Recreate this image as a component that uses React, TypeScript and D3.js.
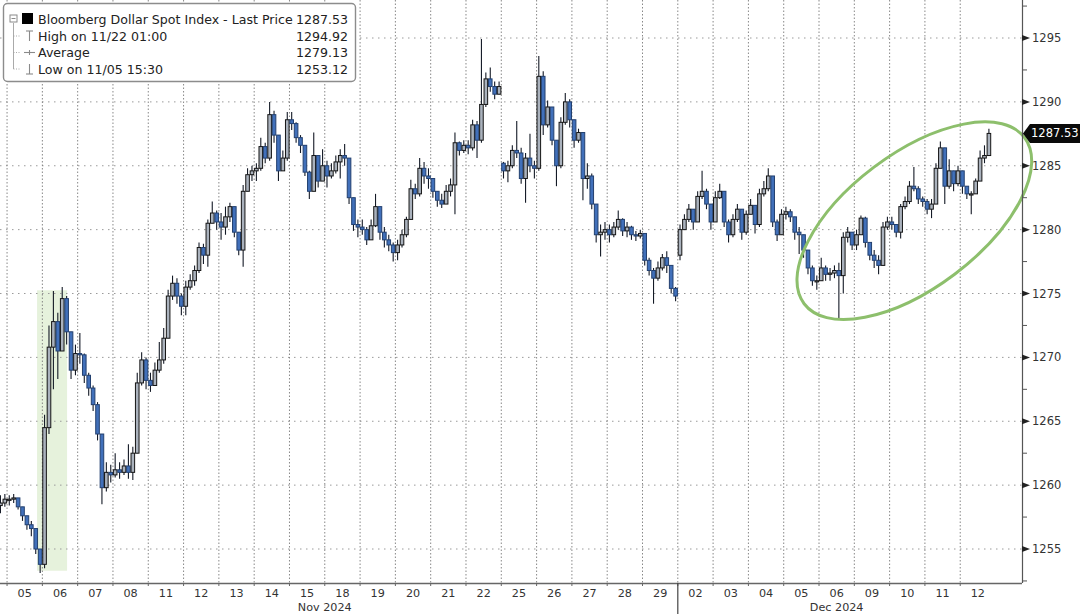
import * as d3 from "d3";

const WIDTH = 1080;
const HEIGHT = 614;

// trading sessions; the first one is only the tail end of Nov 04
const sessions = [
  "11/04", "11/05", "11/06", "11/07", "11/08", "11/11", "11/12", "11/13", "11/14", "11/15",
  "11/18", "11/19", "11/20", "11/21", "11/22", "11/25", "11/26", "11/27", "11/28", "11/29",
  "12/02", "12/03", "12/04", "12/05", "12/06", "12/09", "12/10", "12/11", "12/12",
];

// opening price of each session (3-hour bars after that open at the previous close)
const opens = [
  1258.4, 1258.9, 1253.8, 1270.3, 1260.8, 1268.2, 1274.0, 1280.6, 1284.6, 1288.6,
  1285.0, 1280.2, 1278.2, 1284.0, 1286.6, 1285.2, 1284.8, 1288.6, 1280.0, 1279.7,
  1278.0, 1280.6, 1281.2, 1281.2, 1276.0, 1278.8, 1280.6, 1282.2, 1284.6,
];

const closes = [
  [1258.6, 1258.9],
  [1258.9, 1259.0, 1258.3, 1257.6, 1256.9, 1256.6, 1255.0, 1253.8],
  [1264.5, 1270.8, 1272.8, 1270.5, 1274.6, 1272.0, 1269.0, 1270.3],
  [1270.2, 1268.6, 1267.6, 1266.3, 1264.0, 1259.8, 1261.0, 1260.8],
  [1261.2, 1261.0, 1261.5, 1261.0, 1262.5, 1268.0, 1269.8, 1268.2],
  [1267.8, 1269.0, 1269.8, 1271.5, 1274.8, 1275.8, 1274.8, 1274.0],
  [1275.5, 1276.0, 1276.8, 1278.6, 1278.0, 1280.5, 1281.3, 1280.6],
  [1280.2, 1281.0, 1281.8, 1279.8, 1278.4, 1283.0, 1284.3, 1284.6],
  [1284.8, 1286.5, 1285.6, 1289.0, 1287.4, 1284.6, 1285.6, 1288.6],
  [1288.3, 1287.2, 1286.6, 1284.5, 1283.0, 1285.8, 1283.8, 1285.0],
  [1284.2, 1284.6, 1285.3, 1285.8, 1285.6, 1282.5, 1280.4, 1280.2],
  [1280.0, 1279.2, 1280.3, 1281.8, 1279.8, 1279.2, 1278.8, 1278.2],
  [1278.8, 1279.6, 1280.8, 1283.2, 1282.8, 1284.8, 1284.2, 1284.0],
  [1283.0, 1282.3, 1282.0, 1283.0, 1283.5, 1286.8, 1286.2, 1286.6],
  [1286.4, 1288.2, 1287.0, 1289.8, 1291.8, 1291.2, 1290.6, 1291.2],
  [1284.6, 1285.0, 1286.2, 1286.0, 1284.0, 1285.6, 1285.0, 1284.8],
  [1292.0, 1288.2, 1289.6, 1287.0, 1285.0, 1288.4, 1290.0, 1288.6],
  [1287.0, 1287.6, 1284.0, 1284.2, 1282.0, 1279.6, 1279.8, 1280.0],
  [1279.6, 1280.2, 1280.8, 1279.9, 1280.2, 1279.6, 1279.5, 1279.7],
  [1277.6, 1276.8, 1276.2, 1277.0, 1277.8, 1277.2, 1275.4, 1274.8],
  [1280.0, 1280.8, 1281.6, 1280.6, 1282.6, 1283.0, 1282.0, 1280.6],
  [1282.5, 1283.0, 1280.6, 1279.6, 1280.8, 1281.6, 1279.8, 1281.2],
  [1281.9, 1280.4, 1282.8, 1283.2, 1284.2, 1280.6, 1279.6, 1281.2],
  [1281.4, 1281.0, 1279.8, 1279.6, 1278.4, 1277.0, 1276.0, 1276.0],
  [1277.0, 1276.5, 1276.6, 1276.8, 1276.4, 1279.4, 1279.8, 1278.8],
  [1279.6, 1280.9, 1279.0, 1278.0, 1277.6, 1277.2, 1280.2, 1280.6],
  [1280.4, 1279.8, 1281.8, 1282.2, 1283.4, 1283.2, 1282.4, 1282.2],
  [1281.6, 1282.0, 1284.8, 1286.4, 1283.4, 1284.6, 1283.6, 1284.6],
  [1283.4, 1282.8, 1282.8, 1283.8, 1285.6, 1285.8, 1287.53],
];

const highs = [
  [1259.2, 1259.3],
  [1259.2, 1259.3, 1259.0, 1258.3, 1257.6, 1257.2, 1256.6, 1255.0],
  [1265.5, 1272.5, 1275.2, 1273.5, 1275.5, 1274.8, 1272.0, 1271.0],
  [1271.9, 1270.3, 1268.8, 1267.8, 1266.5, 1264.0, 1261.8, 1261.6],
  [1262.5, 1261.8, 1262.0, 1263.2, 1263.0, 1268.8, 1270.4, 1270.0],
  [1268.8, 1269.6, 1271.2, 1272.3, 1275.3, 1276.4, 1276.2, 1275.0],
  [1276.0, 1276.5, 1277.2, 1279.0, 1278.9, 1280.8, 1282.2, 1281.5],
  [1281.3, 1281.8, 1282.1, 1281.6, 1279.5, 1283.5, 1284.8, 1285.0],
  [1285.2, 1287.2, 1286.8, 1290.0, 1289.3, 1287.2, 1286.2, 1289.2],
  [1289.2, 1288.4, 1287.4, 1286.6, 1284.6, 1287.6, 1285.8, 1286.3],
  [1285.4, 1285.2, 1285.8, 1286.3, 1286.7, 1285.6, 1282.5, 1280.8],
  [1280.8, 1280.2, 1280.8, 1282.8, 1281.8, 1280.2, 1279.6, 1279.0],
  [1279.2, 1280.0, 1281.0, 1283.9, 1283.6, 1285.6, 1285.3, 1284.8],
  [1284.0, 1283.0, 1282.8, 1283.5, 1284.0, 1287.6, 1286.9, 1287.0],
  [1287.0, 1288.6, 1288.5, 1294.92, 1292.3, 1292.7, 1291.6, 1291.6],
  [1285.3, 1285.4, 1286.6, 1288.5, 1286.4, 1286.0, 1287.5, 1285.4],
  [1293.6, 1292.4, 1290.1, 1289.6, 1287.0, 1288.8, 1290.7, 1290.2],
  [1288.3, 1287.9, 1287.4, 1285.2, 1284.4, 1282.0, 1280.4, 1280.6],
  [1280.4, 1280.6, 1281.5, 1280.9, 1280.6, 1280.3, 1279.9, 1280.0],
  [1279.0, 1277.8, 1277.0, 1277.5, 1278.1, 1278.3, 1277.2, 1275.5],
  [1280.4, 1281.2, 1282.0, 1281.6, 1283.0, 1284.6, 1283.2, 1282.0],
  [1283.0, 1283.6, 1283.0, 1280.8, 1281.2, 1282.0, 1281.6, 1281.5],
  [1282.4, 1281.8, 1283.2, 1283.8, 1284.8, 1284.2, 1280.8, 1281.6],
  [1281.8, 1281.6, 1281.0, 1280.2, 1279.6, 1278.4, 1277.2, 1276.4],
  [1277.8, 1277.2, 1277.0, 1277.2, 1277.4, 1279.8, 1280.2, 1279.8],
  [1280.0, 1281.1, 1281.0, 1279.0, 1278.4, 1278.0, 1280.6, 1281.0],
  [1281.0, 1280.4, 1282.0, 1282.6, 1283.8, 1284.9, 1283.4, 1282.6],
  [1282.4, 1282.4, 1285.2, 1286.9, 1286.4, 1285.5, 1284.6, 1285.0],
  [1284.2, 1283.4, 1283.0, 1284.0, 1286.2, 1286.6, 1287.9],
];

const lows = [
  [1257.8, 1258.3],
  [1258.4, 1258.6, 1258.1, 1257.2, 1256.5, 1256.0, 1254.6, 1253.12],
  [1253.5, 1264.0, 1267.5, 1268.3, 1270.5, 1271.0, 1268.3, 1268.6],
  [1269.5, 1268.0, 1267.0, 1265.8, 1263.5, 1258.5, 1259.5, 1260.2],
  [1260.6, 1260.5, 1260.8, 1260.5, 1260.4, 1262.5, 1267.8, 1267.5],
  [1267.3, 1267.8, 1268.8, 1269.5, 1271.5, 1274.5, 1274.2, 1273.3],
  [1273.3, 1275.3, 1275.6, 1276.6, 1277.3, 1277.1, 1280.5, 1280.0],
  [1279.2, 1279.6, 1280.6, 1279.4, 1278.0, 1277.1, 1283.4, 1283.8],
  [1283.8, 1284.6, 1285.2, 1285.4, 1286.8, 1283.8, 1284.8, 1285.4],
  [1287.8, 1286.8, 1286.0, 1284.2, 1282.4, 1283.0, 1283.3, 1283.8],
  [1283.3, 1284.0, 1284.4, 1284.0, 1285.0, 1282.0, 1279.9, 1279.4],
  [1279.6, 1278.8, 1279.2, 1280.2, 1279.2, 1278.6, 1278.3, 1277.5],
  [1277.6, 1278.6, 1279.4, 1280.8, 1282.4, 1282.6, 1283.6, 1283.2],
  [1282.5, 1281.8, 1281.7, 1282.0, 1282.6, 1281.2, 1285.8, 1286.0],
  [1285.9, 1286.2, 1285.6, 1286.8, 1289.6, 1290.8, 1290.2, 1290.6],
  [1284.0, 1283.7, 1284.8, 1285.6, 1283.6, 1282.1, 1284.5, 1284.0],
  [1284.6, 1287.4, 1288.0, 1286.6, 1283.4, 1284.8, 1288.2, 1288.0],
  [1286.4, 1286.8, 1282.3, 1283.2, 1281.6, 1279.0, 1277.9, 1279.2],
  [1279.0, 1279.4, 1280.0, 1279.5, 1279.4, 1279.2, 1279.1, 1279.3],
  [1277.2, 1276.4, 1274.2, 1276.0, 1276.8, 1276.6, 1275.0, 1274.4],
  [1277.6, 1280.0, 1280.6, 1280.0, 1280.8, 1282.4, 1281.6, 1280.0],
  [1280.6, 1282.4, 1280.2, 1279.0, 1279.4, 1280.6, 1279.2, 1279.6],
  [1281.3, 1279.7, 1280.2, 1282.6, 1283.0, 1280.2, 1279.1, 1279.6],
  [1280.8, 1280.6, 1279.2, 1278.1, 1277.8, 1276.5, 1275.6, 1275.3],
  [1276.0, 1276.0, 1276.0, 1276.2, 1273.0, 1275.0, 1279.0, 1278.4],
  [1278.4, 1279.6, 1278.6, 1277.6, 1277.0, 1276.5, 1277.2, 1280.0],
  [1280.0, 1279.4, 1279.3, 1281.6, 1282.0, 1283.0, 1282.0, 1281.8],
  [1281.2, 1280.9, 1282.0, 1284.8, 1282.0, 1283.2, 1283.0, 1283.4],
  [1282.8, 1282.4, 1281.2, 1282.8, 1283.8, 1285.2, 1285.8],
];

const yTicks = [1255, 1260, 1265, 1270, 1275, 1280, 1285, 1290, 1295];
const yMinorTicks = [1252.5, 1257.5, 1262.5, 1267.5, 1272.5, 1277.5, 1282.5, 1287.5, 1292.5, 1297.5];

const months = [
  { label: "Nov 2024", day: 9 },
  { label: "Dec 2024", day: 23.5 },
];

const legendRows = [
  { icon: "last", label: "Bloomberg Dollar Spot Index - Last Price", value: "1287.53" },
  { icon: "high", label: "High on 11/22 01:00", value: "1294.92" },
  { icon: "avg", label: "Average", value: "1279.13" },
  { icon: "low", label: "Low on 11/05 15:30", value: "1253.12" },
];

const lastPrice = 1287.53;

// election night window, shaded in green
const electionWindow = { fromDay: 0.85, toDay: 1.7, low: 1253.3, high: 1275.25 };

const BARS_PER_DAY = 8;
const FIRST_DAY = -0.25;

const PLOT_RIGHT = 1022;
const PLOT_BOTTOM = 583;
const FONT = "'DejaVu Sans', Verdana, sans-serif";

const x = d3.scaleLinear().domain([-0.2, 28.75]).range([0, PLOT_RIGHT]);
const y = d3.scaleLinear().domain([1255, 1295]).range([549, 38]);

type Bar = { t: number; o: number; h: number; l: number; c: number };

const bars: Bar[] = [];
{
  let i = 0;
  closes.forEach((row, s) => {
    row.forEach((c, k) => {
      const o = k === 0 ? opens[s] : row[k - 1];
      bars.push({
        t: FIRST_DAY + (i + 0.5) / BARS_PER_DAY,
        o,
        h: Math.max(highs[s][k], o, c),
        l: Math.min(lows[s][k], o, c),
        c,
      });
      i++;
    });
  });
}

// session index 0 is the Nov 04 tail, labelled sessions start at day 0
const labelled = sessions.slice(1);
const monthBreak = labelled.findIndex((d) => d.startsWith("12/"));

function LegendIcon({ kind, cy }: { kind: string; cy: number }) {
  const gray = "#8a8a8a";
  if (kind === "last") {
    return (
      <g>
        <rect x={10} y={cy - 4} width={7} height={7} fill="none" stroke={gray} strokeWidth={1} />
        <line x1={11.5} x2={15.5} y1={cy - 0.5} y2={cy - 0.5} stroke={gray} />
        <rect x={22} y={cy - 6} width={11} height={11} fill="#000" />
      </g>
    );
  }
  if (kind === "high") {
    return (
      <g stroke={gray} strokeWidth={1.1}>
        <line x1={26} x2={33} y1={cy - 5} y2={cy - 5} />
        <line x1={29.5} x2={29.5} y1={cy - 5} y2={cy + 5} />
      </g>
    );
  }
  if (kind === "avg") {
    return (
      <g stroke={gray} strokeWidth={1.1}>
        <line x1={24} x2={35} y1={cy} y2={cy} />
        <line x1={29.5} x2={29.5} y1={cy - 2.5} y2={cy + 2.5} />
      </g>
    );
  }
  return (
    <g stroke={gray} strokeWidth={1.1}>
      <line x1={26} x2={33} y1={cy + 5} y2={cy + 5} />
      <line x1={29.5} x2={29.5} y1={cy - 5} y2={cy + 5} />
    </g>
  );
}

function Legend() {
  const rowY = [19, 36, 52.5, 69];
  return (
    <g fontFamily={FONT} fontSize={12.6} fill="#222">
      <rect x={3.5} y={3.5} width={352} height={78} rx={4} fill="#fff" stroke="#8c8c8c" strokeWidth={1.4} />
      {/* tree lines */}
      <g stroke="#a0a0a0" strokeWidth={0.9}>
        <line x1={13.5} x2={13.5} y1={23} y2={rowY[3]} />
        {rowY.slice(1).map((ry) => (
          <line key={ry} x1={13.5} x2={21} y1={ry} y2={ry} strokeDasharray="1,1.5" />
        ))}
      </g>
      {legendRows.map((r, i) => (
        <g key={r.label}>
          <LegendIcon kind={r.icon} cy={rowY[i]} />
          <text x={38} y={rowY[i]} dominantBaseline="central">
            {r.label}
          </text>
          <text x={348} y={rowY[i]} dominantBaseline="central" textAnchor="end">
            {r.value}
          </text>
        </g>
      ))}
    </g>
  );
}

export default function App() {
  const bodyW = 3.6;
  const yLast = y(lastPrice);

  return (
    <svg
      width={WIDTH}
      height={HEIGHT}
      viewBox={`0 0 ${WIDTH} ${HEIGHT}`}
      style={{ position: "absolute", left: 0, top: 0, background: "#fff", display: "block" }}
    >
      <rect width={WIDTH} height={HEIGHT} fill="#fff" />

      {/* election night shading */}
      <rect
        x={x(electionWindow.fromDay)}
        width={x(electionWindow.toDay) - x(electionWindow.fromDay)}
        y={y(electionWindow.high)}
        height={y(electionWindow.low) - y(electionWindow.high)}
        fill="#e6f2dc"
      />

      {/* grid */}
      <g stroke="#9a9a9a" strokeWidth={1} strokeDasharray="1.5,4.5">
        {yTicks.map((t) => (
          <line key={t} x1={0} x2={PLOT_RIGHT} y1={y(t)} y2={y(t)} />
        ))}
      </g>
      <g stroke="#7a7a7a" strokeWidth={0.9} strokeDasharray="1.5,2">
        {labelled.map((d, i) => (
          <line key={d} x1={x(i)} x2={x(i)} y1={0} y2={PLOT_BOTTOM} />
        ))}
      </g>

      {/* candles */}
      <g>
        {bars.map((b, i) => {
          const cx = x(b.t);
          const up = b.c >= b.o;
          const top = y(Math.max(b.o, b.c));
          const h = Math.max(1.2, Math.abs(y(b.o) - y(b.c)));
          return (
            <g key={i}>
              <line x1={cx} x2={cx} y1={y(b.h)} y2={y(b.l)} stroke="#141a26" strokeWidth={1.1} />
              <rect
                x={cx - bodyW / 2}
                y={top}
                width={bodyW}
                height={h}
                fill={up ? "#aab2bd" : "#4170ba"}
                stroke={up ? "#151515" : "#23406f"}
                strokeWidth={1}
              />
            </g>
          );
        })}
      </g>

      {/* highlight of the December rebound */}
      <ellipse
        cx={0}
        cy={0}
        rx={138}
        ry={67}
        transform={`translate(${x(25.7)},${y(1280.7)}) rotate(-37)`}
        fill="none"
        stroke="#8dbf6c"
        strokeWidth={3}
      />

      {/* y axis */}
      <g fontFamily={FONT} fontSize={11.5} fill="#333">
        <line x1={PLOT_RIGHT + 0.5} x2={PLOT_RIGHT + 0.5} y1={0} y2={PLOT_BOTTOM} stroke="#555" strokeWidth={1.2} />
        {yMinorTicks.map((t) => (
          <line key={t} x1={PLOT_RIGHT} x2={PLOT_RIGHT + 5} y1={y(t)} y2={y(t)} stroke="#555" strokeWidth={1} />
        ))}
        {yTicks.map((t) => (
          <g key={t}>
            <path d={`M${PLOT_RIGHT},${y(t) - 3} L${PLOT_RIGHT + 8},${y(t)} L${PLOT_RIGHT},${y(t) + 3} Z`} fill="#222" />
            <text x={PLOT_RIGHT + 10} y={y(t)} dominantBaseline="central">
              {t}
            </text>
          </g>
        ))}
        {/* last price tag */}
        <path
          d={`M${PLOT_RIGHT + 1},${yLast} L${PLOT_RIGHT + 8},${yLast - 9.5} L${WIDTH},${yLast - 9.5} L${WIDTH},${yLast + 9.5} L${PLOT_RIGHT + 8},${yLast + 9.5} Z`}
          fill="#0a0a0a"
        />
        <text x={PLOT_RIGHT + 9} y={yLast} dominantBaseline="central" fill="#fff">
          {lastPrice.toFixed(2)}
        </text>
      </g>

      {/* x axis */}
      <g fontFamily={FONT} fontSize={11.2} fill="#333">
        <line x1={0} x2={PLOT_RIGHT} y1={PLOT_BOTTOM + 0.5} y2={PLOT_BOTTOM + 0.5} stroke="#666" strokeWidth={1.3} />
        {labelled.map((d, i) => (
          <g key={d}>
            <line x1={x(i)} x2={x(i)} y1={PLOT_BOTTOM} y2={PLOT_BOTTOM + 3} stroke="#666" />
            <text x={x(i + 0.5)} y={PLOT_BOTTOM + 14} textAnchor="middle">
              {d.slice(3)}
            </text>
          </g>
        ))}
        <line x1={x(monthBreak)} x2={x(monthBreak)} y1={PLOT_BOTTOM} y2={HEIGHT} stroke="#444" strokeWidth={1.2} />
        {months.map((m) => (
          <text key={m.label} x={x(m.day)} y={PLOT_BOTTOM + 28} textAnchor="middle">
            {m.label}
          </text>
        ))}
      </g>

      <Legend />
    </svg>
  );
}
